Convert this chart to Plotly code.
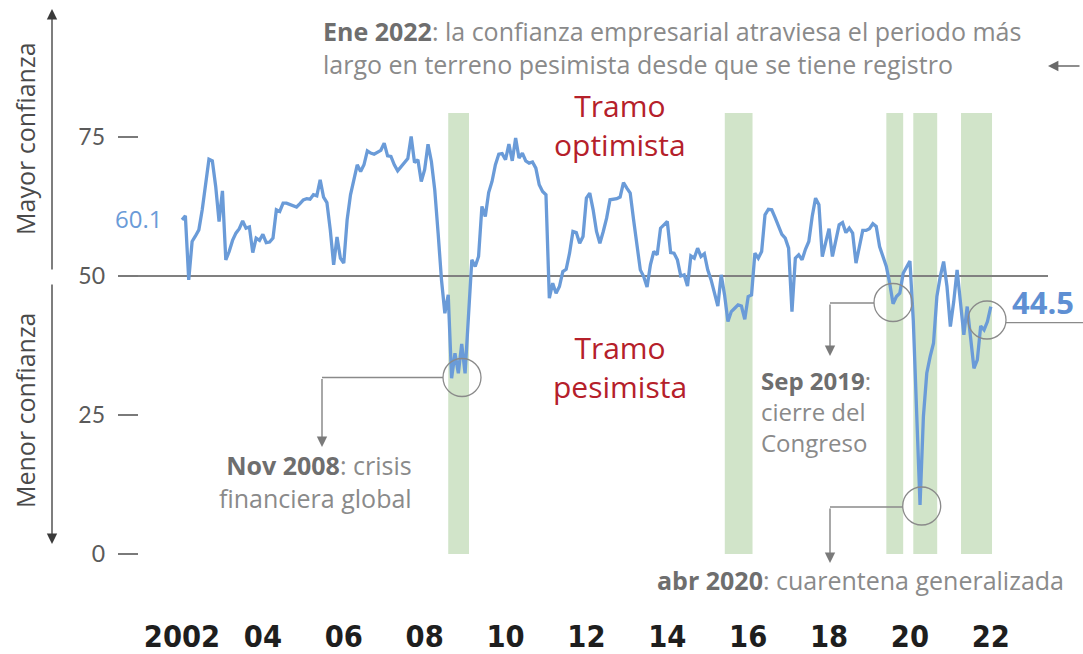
import plotly.graph_objects as go
import pandas as pd

# ---------------- DATA ----------------
months = pd.date_range("2002-01-01", "2022-01-01", freq="MS")

confianza = [
    60.1, 60.8, 49.3, 56.2, 57.2, 58.3, 61.9, 66.5, 71.0, 70.7,
    66.1, 59.8, 65.3, 52.9, 54.4, 56.4, 57.7, 58.5, 59.9, 58.6,
    58.8, 54.2, 56.8, 56.4, 57.5, 56.0, 56.1, 56.8, 61.9, 61.6,
    63.1, 63.1, 62.9, 62.6, 62.4, 63.0, 63.7, 63.9, 63.8, 64.6,
    64.4, 67.3, 64.2, 63.2, 58.3, 52.0, 57.0, 53.2, 52.3, 60.1,
    64.6, 67.3, 70.0, 68.8, 70.0, 72.5, 72.1, 71.9, 72.2, 72.6,
    73.9, 71.6, 71.5, 70.0, 68.9, 69.6, 70.2, 71.1, 75.1, 70.4,
    70.9, 67.0, 69.1, 73.7, 70.6, 65.5, 57.7, 49.3, 43.3, 46.6,
    31.6, 36.1, 32.5, 37.8, 32.5, 43.3, 52.9, 51.7, 53.5, 62.5,
    60.7, 65.0, 67.0, 70.0, 71.9, 72.0, 70.9, 73.7, 70.7, 74.8,
    71.2, 72.1, 70.7, 70.3, 70.5, 69.4, 66.4, 65.2, 64.6, 46.0,
    48.7, 46.9, 48.1, 50.8, 51.2, 54.1, 58.0, 57.8, 55.9, 57.1,
    64.0, 64.9, 61.9, 58.0, 55.9, 58.0, 60.4, 63.7, 63.8, 63.9,
    64.2, 66.8, 65.8, 64.9, 60.1, 55.3, 51.1, 49.9, 48.0, 52.0,
    54.4, 53.8, 58.6, 59.2, 59.8, 54.2, 54.1, 52.9, 50.0, 50.2,
    48.2, 53.6, 53.2, 55.0, 53.5, 54.0, 51.1, 49.3, 46.9, 44.6,
    50.2, 46.6, 41.8, 43.6, 44.2, 44.8, 44.6, 42.2, 46.3, 46.6,
    54.1, 53.2, 54.4, 61.0, 62.0, 61.9, 60.5, 59.0, 57.5, 56.8,
    55.0, 43.6, 53.2, 53.8, 52.9, 54.8, 56.2, 60.7, 64.0, 62.8,
    53.5, 56.0, 58.5, 53.5, 56.5, 59.2, 59.6, 57.8, 58.6, 57.7,
    52.3, 55.0, 58.2, 58.2, 58.5, 59.4, 58.9, 55.3, 53.5, 51.7,
    48.7, 45.0, 46.3, 46.9, 50.5, 51.5, 52.7, 42.0, 25.0, 8.8,
    24.7, 32.5, 35.5, 37.9, 46.3, 49.9, 52.6, 48.1, 40.9, 45.4,
    51.1, 44.5, 39.4, 44.5, 39.1, 33.4, 34.9, 41.0, 40.3, 41.8, 44.5,
]

# pessimistic stretches (shaded bands)
band_start = ["2008-08-01", "2015-06-03", "2019-06-01", "2020-02-01", "2021-04-06"]
band_end = ["2009-02-06", "2016-02-10", "2019-11-01", "2020-09-04", "2022-01-12"]

tick_years = [2002, 2004, 2006, 2008, 2010, 2012, 2014, 2016, 2018, 2020, 2022]
tick_text = ["2002", "04", "06", "08", "10", "12", "14", "16", "18", "20", "22"]
y_ticks = [0, 25, 50, 75]


def to_year(d):
    d = pd.Timestamp(d)
    return d.year + (d.month - 1) / 12 + (d.day - 1) / 365.25


x_vals = [to_year(d) for d in months]

# ---------------- LAYOUT GEOMETRY ----------------
W, H = 1083, 654
L, R, T, B = 118, 1048, 100, 560
X0, X1 = 2000.4174, 2023.4144
Y0, Y1 = -1.08, 81.65


def px2x(px):
    return X0 + (px - L) / (R - L) * (X1 - X0)


def py2y(py):
    return Y1 - (py - T) / (B - T) * (Y1 - Y0)


def xp(px):
    return (px - L) / (R - L)


def yp(py):
    return (B - py) / (B - T)


FONT = "Open Sans"
GRAY_TXT = "#8a8a8a"
GRAY_BOLD = "#6e6e6e"
RED = "#b5202a"
BLUE = "#6a9bd8"

fig = go.Figure()
fig.add_trace(go.Scatter(
    x=x_vals, y=confianza, mode="lines",
    line=dict(color=BLUE, width=3.3), hoverinfo="skip", showlegend=False,
))

shapes = []
for s, e in zip(band_start, band_end):
    shapes.append(dict(type="rect", xref="x", yref="paper", x0=to_year(s), x1=to_year(e),
                       y0=yp(554), y1=yp(113), fillcolor="#d1e4c9", line=dict(width=0),
                       layer="below"))
# 50 reference line
shapes.append(dict(type="line", xref="paper", yref="y", x0=0, x1=1, y0=50, y1=50,
                   line=dict(color="#808080", width=1.8), layer="below"))

# circles (pixel sized, anchored to data)
circles = [(462, 377.5), (893, 302.5), (921.7, 506), (987, 320)]
for cx, cy in circles:
    shapes.append(dict(type="circle", xref="x", yref="y", xsizemode="pixel", ysizemode="pixel",
                       xanchor=px2x(cx), yanchor=py2y(cy), x0=-19, x1=19, y0=-19, y1=19,
                       line=dict(color="#8a8a8a", width=1.3), fillcolor="rgba(0,0,0,0)"))

# leader lines
leaders = [
    ((443, 377.5), (322, 377.5)),
    ((874, 303), (830, 303)),
    ((902.7, 507), (830, 507)),
    ((1006, 322.7), (1083, 322.7)),
]
for (a, b_), (c, d) in leaders:
    shapes.append(dict(type="line", xref="paper", yref="paper", x0=xp(a), y0=yp(b_), x1=xp(c), y1=yp(d),
                       line=dict(color="#8a8a8a", width=1.3)))

ann = []


def arrow(tip, tail, color="#5a5a5a", width=1.3):
    ann.append(dict(xref="paper", yref="paper", x=xp(tip[0]), y=yp(tip[1]),
                    ax=tail[0] - tip[0], ay=tail[1] - tip[1], axref="pixel", ayref="pixel",
                    text="", showarrow=True, arrowhead=2, arrowsize=1.6, arrowwidth=width,
                    arrowcolor=color, standoff=0, startstandoff=0))


arrow((322, 447), (322, 377.5), "#7a7a7a")
arrow((830, 356), (830, 303), "#7a7a7a")
arrow((830, 563), (830, 507), "#7a7a7a")
arrow((1048, 66), (1081, 66), "#6a6a6a")
arrow((52, 9), (52, 271), "#3a3a3a")
arrow((52, 544), (52, 283), "#3a3a3a")


def text(t, px, py, size, color, anchor="left", family=FONT, angle=0, align=None):
    ann.append(dict(xref="paper", yref="paper", x=xp(px), y=yp(py), text=t, showarrow=False,
                    xanchor=anchor, yanchor="middle", textangle=angle, align=align or anchor,
                    font=dict(family=family, size=size, color=color)))


def bold(s):
    return f"<b><span style='color:{GRAY_BOLD}'>{s}</span></b>"


text(bold("Ene 2022") + ": la confianza empresarial atraviesa el periodo más<br>"
     "largo en terreno pesimista desde que se tiene registro", 321, 47.5, 25, GRAY_TXT)

text("Tramo<br>optimista", 620, 125.5, 30, RED, "center")
text("Tramo<br>pesimista", 620, 367, 30, RED, "center")

text(bold("Nov 2008") + ": crisis<br>financiera global", 414, 481.5, 25, GRAY_TXT, "right")

text(bold("Sep 2019") + ":<br>cierre del<br>Congreso", 759, 411, 24, GRAY_TXT)

text(bold("abr 2020") + ": cuarentena generalizada", 1066, 580, 25, GRAY_TXT, "right")

text("60.1", 164, 218, 24, BLUE, "right")
text("<b>44.5</b>", 1010, 302, 31, "#5e8fd3")

text("Mayor confianza", 25, 139, 25, "#4a4a4a", "center", angle=-90)
text("Menor confianza", 25, 410, 25, "#4a4a4a", "center", angle=-90)

fig.update_layout(
    width=W, height=H,
    margin=dict(l=L, r=W - R, t=T, b=H - B),
    paper_bgcolor="white", plot_bgcolor="white",
    shapes=shapes, annotations=ann, showlegend=False,
    xaxis=dict(range=[X0, X1], tickvals=tick_years,
               ticktext=[f"<b>{t}</b>" for t in tick_text],
               tickfont=dict(family="DejaVu Sans Condensed", size=30.5, color="#1e1e1e"),
               showgrid=False, zeroline=False, showline=False, ticks="",
               ticklabelstandoff=55, automargin=False),
    yaxis=dict(range=[Y0, Y1], tickvals=y_ticks, ticktext=[str(v) for v in y_ticks],
               tickfont=dict(family="Lato", size=23, color="#5a5a5a"),
               showgrid=False, zeroline=False, showline=False,
               ticks="inside", ticklen=20, tickwidth=1.5, tickcolor="#7a7a7a",
               ticklabelstandoff=12, automargin=False),
)

fig.write_html("out.html", config={"displayModeBar": False},
               post_script="document.body.style.margin='0px';")
